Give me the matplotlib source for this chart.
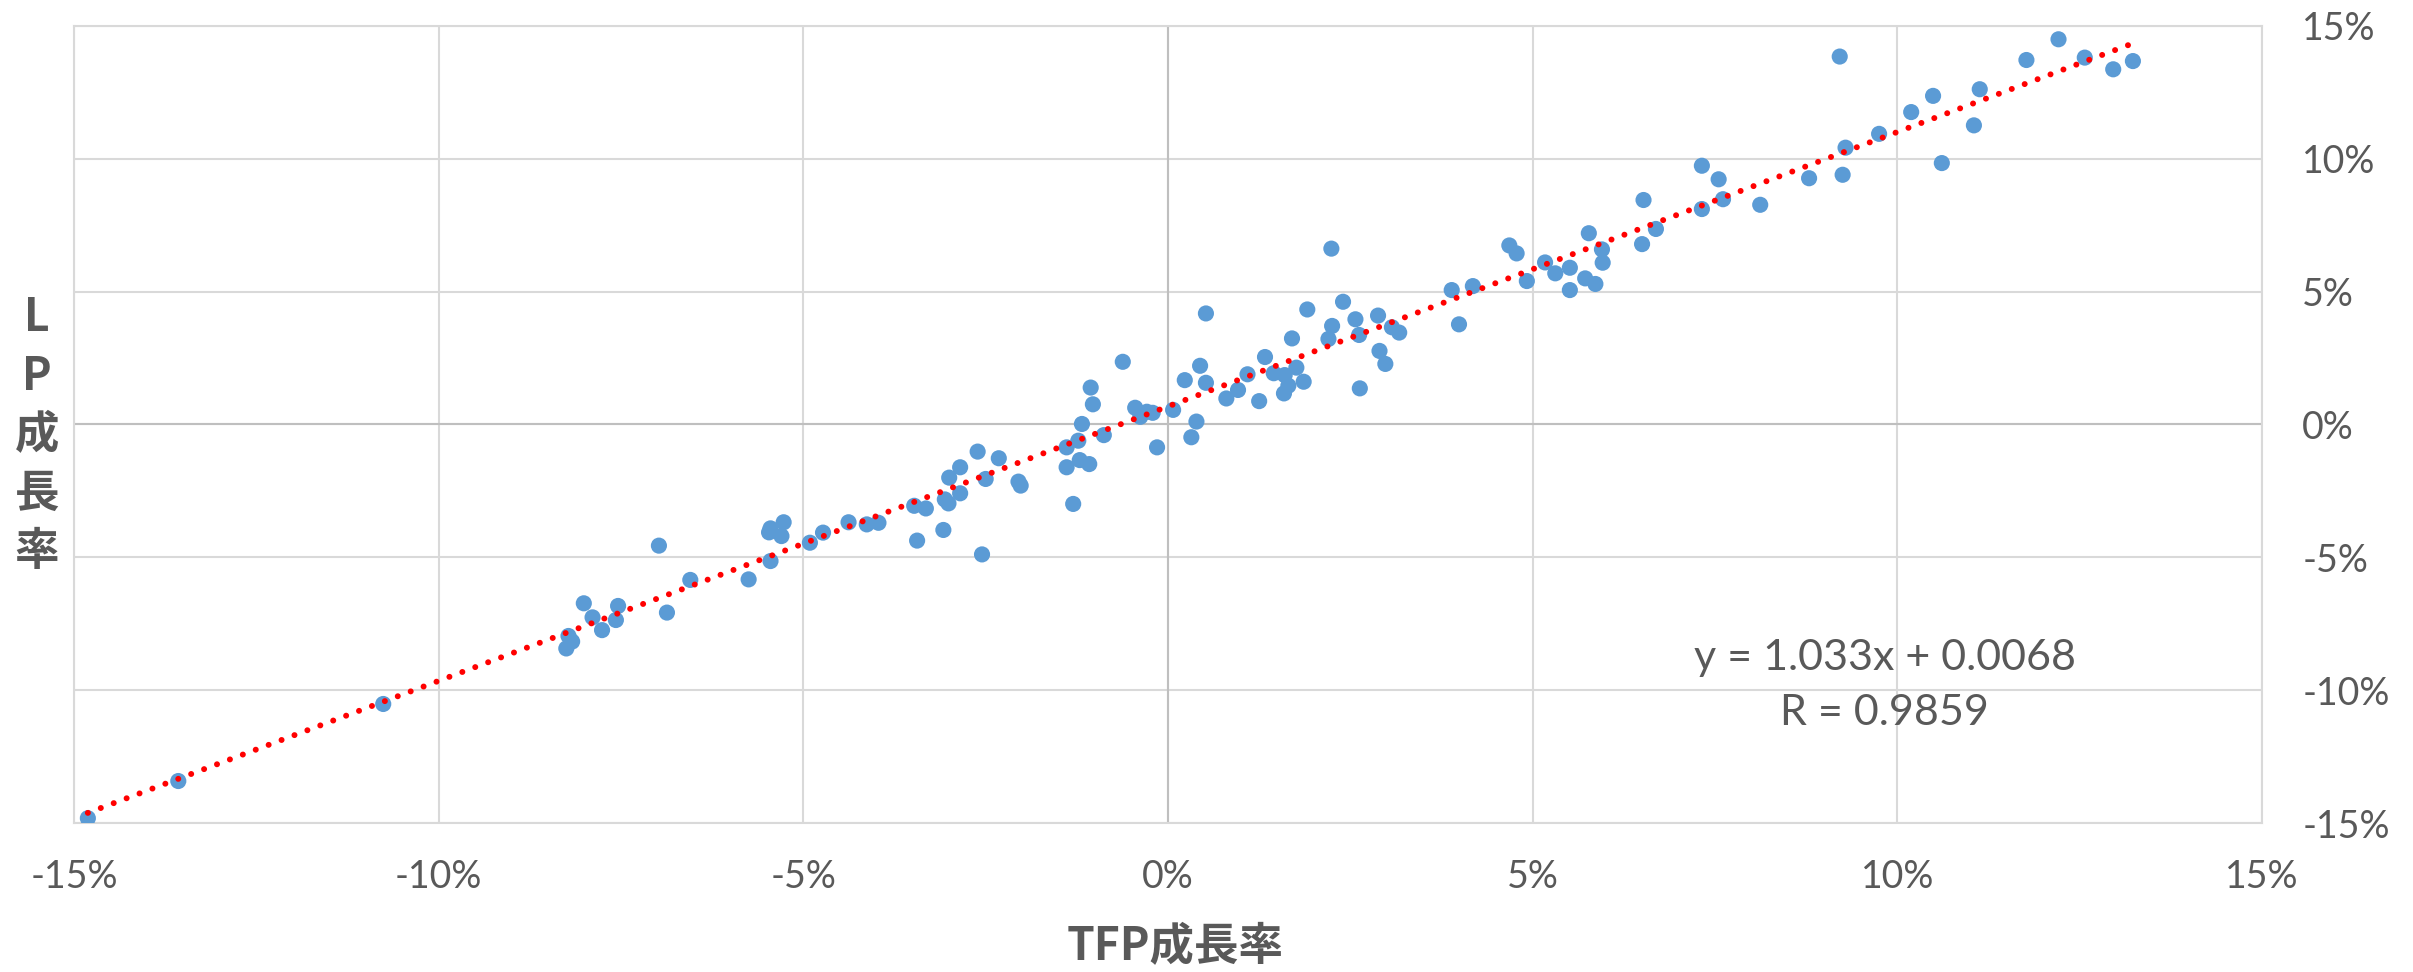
import matplotlib
matplotlib.use("Agg")
import matplotlib.pyplot as plt
import matplotlib.ticker as ticker
import numpy as np

# TFP growth vs labour productivity growth (%), one point per observation
tfp = [-14.81, -13.57, -10.76,
       -8.25, -8.17, -8.22, -8.01, -7.89, -7.76, -7.57, -7.54, -6.98, -6.87, -6.55,
       -5.75, -5.45, -5.47, -5.45, -5.30, -5.27, -4.91, -4.73, -4.38, -4.13, -3.97,
       -3.48, -3.32, -3.44, -3.08, -2.55, -3.06, -3.01, -2.85, -3.00, -2.85, -2.61,
       -2.32, -2.50, -2.05, -2.02, -1.39, -1.23, -1.18, -1.21, -1.08, -1.39, -1.30,
       -1.06, -1.03, -0.88, -0.62, -0.45, -0.38, -0.29, -0.21, 0.07, 0.23, -0.15,
       0.32, 0.39,
       0.52, 0.44, 0.52, 0.80, 0.96, 1.09, 1.25, 1.33, 1.45, 1.60, 1.76, 1.65, 1.59,
       1.86, 1.70, 1.91, 2.24, 2.40, 2.25, 2.20, 2.57, 2.62, 2.88, 3.07, 3.17, 2.90,
       2.98, 2.63, 3.89, 4.18, 3.99, 4.68, 4.78, 4.92, 5.17, 5.31, 5.51, 5.51, 5.72,
       5.86, 5.77, 5.95, 5.96, 6.50,
       6.52, 6.69, 7.32, 7.55, 7.32, 7.61, 8.12, 8.79, 9.25, 9.29, 9.21, 9.75, 10.19,
       10.49, 10.61, 11.05, 11.13, 11.77, 12.21, 12.57, 12.96, 13.23]
lp = [-14.82, -13.42, -10.52,
      -8.43, -8.17, -7.96, -6.73, -7.26, -7.74, -7.36, -6.83, -4.56, -7.08, -5.85,
      -5.83, -5.14, -4.06, -3.91, -4.20, -3.68, -4.45, -4.07, -3.68, -3.76, -3.70,
      -3.06, -3.16, -4.37, -3.97, -4.89, -2.82, -2.97, -2.59, -2.00, -1.61, -1.02,
      -1.27, -2.05, -2.15, -2.30, -0.86, -0.61, 0.02, -1.34, -1.49, -1.61, -2.99,
      1.39, 0.76, -0.40, 2.36, 0.63, 0.29, 0.48, 0.44, 0.55, 1.67, -0.86,
      -0.48, 0.11,
      4.18, 2.21, 1.57, 0.98, 1.30, 1.89, 0.88, 2.54, 1.93, 1.86, 2.14, 1.46, 1.17,
      1.61, 3.24, 4.33, 6.62, 4.62, 3.71, 3.22, 3.96, 3.37, 4.10, 3.66, 3.46, 2.77,
      2.28, 1.36, 5.06, 5.21, 3.77, 6.74, 6.44, 5.40, 6.10, 5.69, 5.90, 5.06, 5.50,
      5.29, 7.20, 6.59, 6.09, 6.79,
      8.45, 7.36, 9.74, 9.23, 8.11, 8.48, 8.27, 9.27, 9.40, 10.42, 13.85, 10.94, 11.76,
      12.37, 9.84, 11.26, 12.62, 13.72, 14.50, 13.81, 13.37, 13.68]

# linear trend as reported
slope = 1.033
intercept = 0.0068
r_value = 0.9859

x = np.array(tfp) / 100
y = np.array(lp) / 100

grey = "#595959"
plt.rcParams["font.family"] = ["Lato", "DejaVu Sans"]
cjk = ["Noto Sans CJK JP", "DejaVu Sans"]

fig = plt.figure(figsize=(24.13, 9.72), dpi=100)
ax = fig.add_axes([74 / 2413, 1 - 823 / 972, 2188 / 2413, 797 / 972])

ax.scatter(x, y, s=135, color="#5B9BD5", edgecolors="none", zorder=3)

xt = np.array([x.min(), x.max()])
ax.plot(xt, slope * xt + intercept, color="red", lw=4.3,
        linestyle=(0, (0.01, 2.3)), dash_capstyle="round", zorder=4)

ax.set_xlim(-0.15, 0.15)
ax.set_ylim(-0.15, 0.15)
ticks = np.arange(-0.15, 0.151, 0.05)
ax.set_xticks(ticks)
ax.set_yticks(ticks)
pct = ticker.FuncFormatter(lambda v, p: f"{round(v * 100)}%")
ax.xaxis.set_major_formatter(pct)
ax.yaxis.set_major_formatter(pct)
ax.yaxis.tick_right()
ax.tick_params(axis="both", length=0, labelsize=27, labelcolor=grey)
ax.tick_params(axis="x", pad=26)
ax.tick_params(axis="y", pad=29)

ax.grid(color="#D9D9D9", lw=1.5, zorder=0)
ax.axhline(0, color="#BFBFBF", lw=1.5, zorder=1)
ax.axvline(0, color="#BFBFBF", lw=1.5, zorder=1)
for s in ax.spines.values():
    s.set_color("#D9D9D9")
    s.set_linewidth(1.5)
ax.set_axisbelow(True)

ax.text(0.0983, -0.0984, f"y = {slope:.3f}x + {intercept:.4f}\nR = {r_value:.4f}",
        ha="center", va="center", fontsize=31, color=grey, linespacing=1.55)

fig.text(1175 / 2413, 1 - 947 / 972, "TFP成長率", ha="center", va="center",
         fontsize=32, fontweight="bold", color=grey, family=cjk)
for i, ch in enumerate("LP成長率"):
    fig.text(37 / 2413, 1 - (318 + 58.5 * i) / 972, ch, ha="center", va="center",
             fontsize=32, fontweight="bold", color=grey, family=cjk)

fig.savefig("out.png", dpi=100, facecolor="white")
